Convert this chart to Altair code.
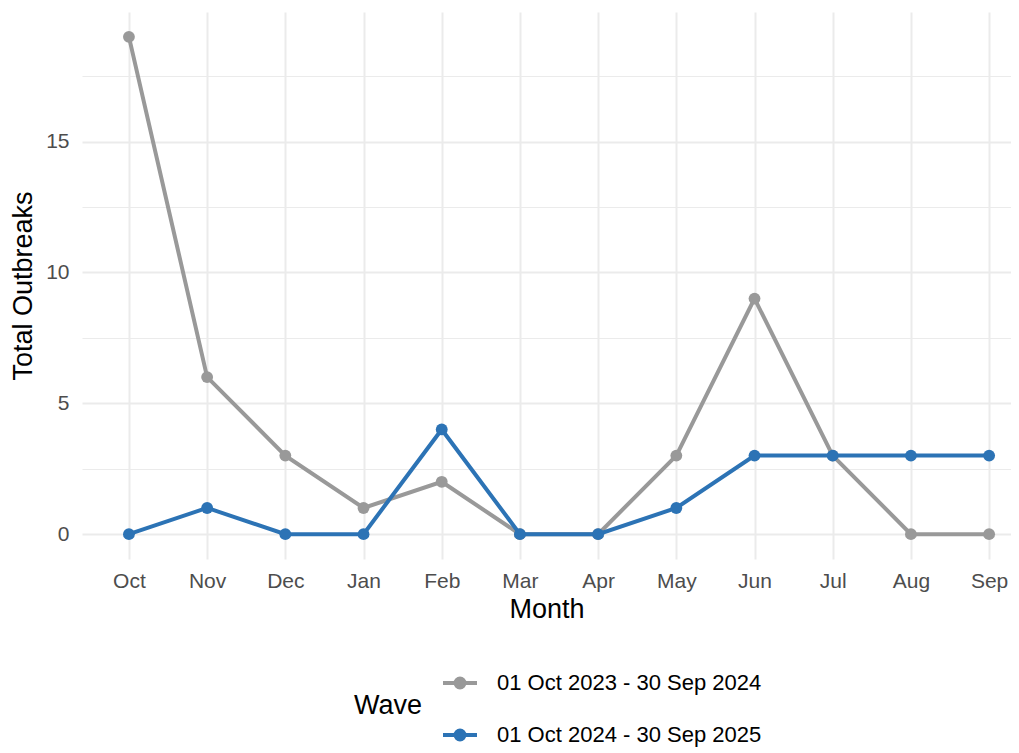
import altair as alt
import pandas as pd

months = ["Oct", "Nov", "Dec", "Jan", "Feb", "Mar", "Apr", "May", "Jun", "Jul", "Aug", "Sep"]
wave_names = ["01 Oct 2023 - 30 Sep 2024", "01 Oct 2024 - 30 Sep 2025"]
wave1 = [19, 6, 3, 1, 2, 0, 0, 3, 9, 3, 0, 0]
wave2 = [0, 1, 0, 0, 4, 0, 0, 1, 3, 3, 3, 3]
colors = ["#999999", "#2C73B5"]

rows = []
for name, vals in zip(wave_names, [wave1, wave2]):
    for m, v in zip(months, vals):
        rows.append({"Month": m, "Outbreaks": v, "Wave": name})
df = pd.DataFrame(rows)

FONT = "Liberation Sans"

x_enc = alt.X(
    "Month:N",
    sort=months,
    scale=alt.Scale(type="point", padding=0.44, align=0.682),
    axis=alt.Axis(
        title="Month",
        labelAngle=0,
        labelFontSize=21,
        labelColor="#4D4D4D",
        labelPadding=11,
        titleFontSize=27,
        titleFontWeight="normal",
        titleColor="black",
        titlePadding=5,
        ticks=False,
        domain=False,
        grid=True,
        gridColor="#EBEBEB",
        gridWidth=2,
    ),
)
y_enc = alt.Y(
    "Outbreaks:Q",
    scale=alt.Scale(domain=[-0.95, 19.95], nice=False, zero=False),
    axis=alt.Axis(
        title="Total Outbreaks",
        values=[0, 2.5, 5, 7.5, 10, 12.5, 15, 17.5],
        labelExpr="datum.value % 5 === 0 ? datum.label : ''",
        labelFontSize=21,
        labelColor="#4D4D4D",
        labelPadding=13,
        titleFontSize=27,
        titleFontWeight="normal",
        titleColor="black",
        titlePadding=8,
        ticks=False,
        domain=False,
        grid=True,
        gridColor="#EBEBEB",
        gridWidth={"condition": {"test": "datum.value % 5 !== 0", "value": 1}, "value": 2},
    ),
)
color_enc = alt.Color(
    "Wave:N",
    scale=alt.Scale(domain=wave_names, range=colors),
    legend=alt.Legend(
        title="Wave",
        orient="none",
        legendX=272,
        legendY=652,
        direction="vertical",
        titleOrient="left",
        titleAnchor="middle",
        titleBaseline="middle",
        titleFontSize=27,
        titleFontWeight="normal",
        titleColor="black",
        titlePadding=18,
        labelFontSize=22,
        labelColor="black",
        labelOffset=18,
        labelLimit=0,
        rowPadding=20,
        symbolType="M-1,0L1,0M0.265,0A0.265,0.265,0,1,1,-0.265,0A0.265,0.265,0,1,1,0.265,0Z",
        symbolSize=1156,
        symbolStrokeWidth=4,
    ),
)

base = alt.Chart(df).encode(x=x_enc, y=y_enc, color=color_enc)

layers = []
for name in wave_names:
    sub = base.transform_filter(alt.datum.Wave == name)
    layers.append(sub.mark_line(strokeWidth=4))
    layers.append(sub.mark_point(filled=True, size=140, opacity=1))

chart = (
    alt.layer(*layers)
    .properties(
        width=929,
        height=547,
        autosize=alt.AutoSizeParams(type="none"),
        padding={"left": 74, "top": 4, "right": 0, "bottom": 192},
    )
    .configure(font=FONT)
    .configure_view(stroke=None)
)

chart.save("out.html", embed_options={"renderer": "svg", "actions": False})
